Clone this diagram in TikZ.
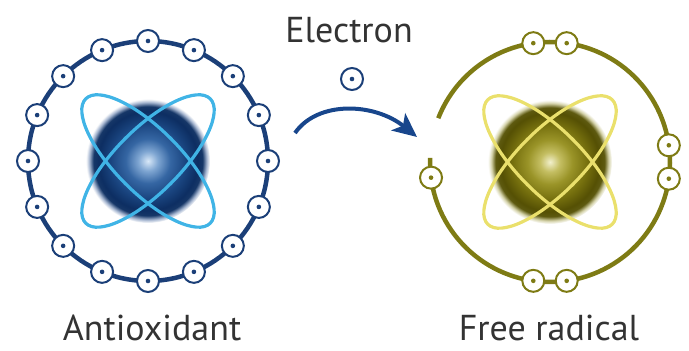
\documentclass[tikz,border=0pt]{standalone}
\usepackage{fontspec}
\setmainfont{PT Sans}
\usetikzlibrary{arrows.meta}
\definecolor{atomnavy}{HTML}{1B3F78}
\definecolor{atomolive}{HTML}{7E7B14}
\definecolor{orbitblue}{HTML}{40B4E6}
\definecolor{orbityellow}{HTML}{EAE06C}
\definecolor{arrowblue}{HTML}{18468C}
\definecolor{labelgray}{HTML}{333333}
\definecolor{bluea}{HTML}{D8E8F8}
\definecolor{blueb}{HTML}{7FA6D2}
\definecolor{bluec}{HTML}{3566A3}
\definecolor{blued}{HTML}{1A4580}
\definecolor{bluee}{HTML}{0D2E62}
\definecolor{bluef}{HTML}{163768}
\definecolor{blueg}{HTML}{A8B8D2}
\definecolor{olivea}{HTML}{F2F0CC}
\definecolor{oliveb}{HTML}{C4BE62}
\definecolor{olivec}{HTML}{9A9428}
\definecolor{olived}{HTML}{76700E}
\definecolor{olivee}{HTML}{555004}
\definecolor{olivef}{HTML}{5E5A10}
\definecolor{oliveg}{HTML}{D6D4AC}
\pgfdeclareradialshading{bluesphere}{\pgfpoint{0bp}{0bp}}{color(0bp)=(bluea); color(4bp)=(blueb);
  color(9bp)=(bluec); color(15bp)=(blued); color(20bp)=(bluee); color(22bp)=(bluef);
  color(23.7bp)=(blueg); color(25bp)=(white); color(50bp)=(white)}
\pgfdeclareradialshading{olivesphere}{\pgfpoint{0bp}{0bp}}{color(0bp)=(olivea); color(4bp)=(oliveb);
  color(9bp)=(olivec); color(15bp)=(olived); color(20bp)=(olivee); color(22bp)=(olivef);
  color(23.7bp)=(oliveg); color(25bp)=(white); color(50bp)=(white)}

\begin{document}
\begin{tikzpicture}[x=1pt,y=1pt,
  atomtext/.style={font=\fontsize{36}{36}\selectfont,text=labelgray,anchor=base,inner sep=0pt},
  core/.style={circle,minimum size=124pt,inner sep=0pt,shading=#1},
  orbit/.style={line width=3.2pt,#1},
  shell/.style={line width=4.5pt,#1},
  electron/.style={circle,draw=#1,line width=2pt,fill=white,minimum size=22pt,inner sep=0pt,
    path picture={\fill[#1] (path picture bounding box.center) circle[radius=2.3];}}]
\useasboundingbox (0,0) rectangle (689,351);
\node[core=bluesphere] (lcore) at (148,190) {};
\node[core=olivesphere] (rcore) at (550,189) {};
\draw[orbit=orbitblue] (lcore.center) ellipse[x radius=88,y radius=32,rotate=45];
\draw[orbit=orbitblue] (lcore.center) ellipse[x radius=88,y radius=32,rotate=-45];
\draw[orbit=orbityellow] (rcore.center) ellipse[x radius=88,y radius=32,rotate=45];
\draw[orbit=orbityellow] (rcore.center) ellipse[x radius=88,y radius=32,rotate=-45];
\draw[shell=atomnavy] (lcore.center) circle[radius=120];
\foreach \a [count=\i] in {0,22.5,...,337.5}
  \node[electron=atomnavy] (le\i) at ([shift={(\a:120)}]lcore.center) {};
\draw[shell=atomolive] ([shift={(178:120)}]rcore.center) arc[start angle=178,end angle=518.6,radius=120];
\foreach \a [count=\i] in {82,98,-8,8,262,278,187.5}
  \node[electron=atomolive] (re\i) at ([shift={(\a:120)}]rcore.center) {};
\node[electron=atomnavy] (free) at (352,272) {};
\node[atomtext] (electronlabel) at (349,308) {Electron};
\node[atomtext] (antioxidantlabel) at (152,10) {Antioxidant};
\node[atomtext] (radicallabel) at (549,10) {Free radical};
\coordinate (arrowstart) at (295,218);
\coordinate (arrowend) at (417,214);
\draw[arrowblue,line width=4pt,-{Stealth[length=24pt,width=22pt,inset=6pt]}]
  (arrowstart) .. controls (318,251) and (375,248) .. (arrowend);
\end{tikzpicture}
\end{document}
